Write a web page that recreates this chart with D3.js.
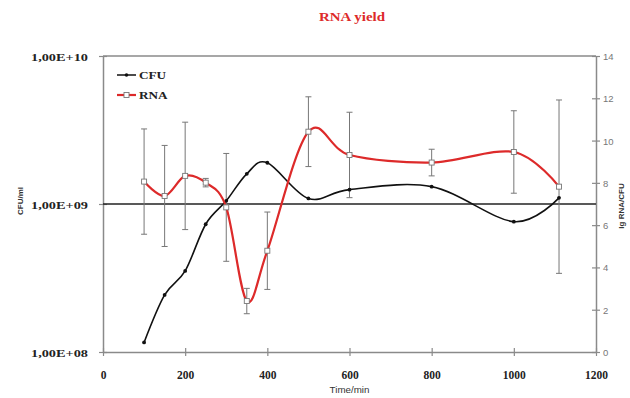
<!DOCTYPE html>
<html>
<head>
<meta charset="utf-8">
<script src="https://cdn.jsdelivr.net/npm/d3@7"></script>
<style>
  html, body { margin: 0; padding: 0; background: #fff; }
  svg { display: block; }
</style>
</head>
<body>
<svg id="chart" width="630" height="398"></svg>
<script>
// ---- data ----
const timeMin = [100, 150, 200, 250, 300, 350, 400, 500, 600, 800, 1000, 1110];
const cfuPerMl = [1.16e8, 2.43e8, 3.53e8, 7.3e8, 1.05e9, 1.6e9, 1.9e9, 1.09e9, 1.25e9, 1.31e9, 7.6e8, 1.1e9];
const lgRnaPerCfu = [8.06, 7.38, 8.33, 8.01, 6.84, 2.41, 4.79, 10.42, 9.32, 8.96, 9.46, 7.82];
const rnaError = [2.49, 2.39, 2.54, 0.2, 2.55, 0.6, 1.83, 1.65, 2.02, 0.63, 1.95, 4.1];
const xTicks = [0, 200, 400, 600, 800, 1000, 1200];
const leftTicks = [1e8, 1e9, 1e10];
const leftTickLabels = ["1,00E+08", "1,00E+09", "1,00E+10"];
const rightTicks = [0, 2, 4, 6, 8, 10, 12, 14];
const seriesNames = ["CFU", "RNA"];

// ---- layout ----
const svg = d3.select("#chart");
const L = 103, R = 596, T = 56, B = 352;
const red = "#dd2a2a";
const axisGrey = "#8a8a8a";

const x = d3.scaleLinear().domain([0, 1200]).range([L, R]);
const yL = d3.scaleLog().domain([1e8, 1e10]).range([B, T]);
const yR = d3.scaleLinear().domain([0, 14]).range([B, T]);

// title
svg.append("text")
  .attr("transform", `translate(352,21) scale(1.15,1)`)
  .attr("text-anchor", "middle")
  .attr("font-family", "Liberation Serif")
  .attr("font-weight", "bold")
  .attr("font-size", 13)
  .attr("fill", red)
  .text("RNA yield");

// frame top line
svg.append("line").attr("x1", L).attr("x2", R).attr("y1", T).attr("y2", T)
  .attr("stroke", axisGrey).attr("stroke-width", 1.5);

// axes
const crossTicks = (g) => {
  g.select(".domain").attr("stroke", axisGrey).attr("stroke-width", 1.5);
  g.selectAll(".tick line").attr("stroke", axisGrey).attr("stroke-width", 1.2);
};

// bottom axis
const gx = svg.append("g").attr("transform", `translate(0,${B})`)
  .call(d3.axisBottom(x).tickValues(xTicks).tickSize(4).tickSizeOuter(0).tickFormat(""));
crossTicks(gx);
gx.selectAll(".tick line").attr("y1", -4).attr("y2", 4);
gx.selectAll(".tick").append("text")
  .attr("y", 27).attr("x", 0)
  .attr("text-anchor", "middle")
  .attr("font-family", "Liberation Serif").attr("font-weight", "bold")
  .attr("font-size", 11.5).attr("fill", "#222")
  .text(d => d3.format("d")(d));

// left axis
const gl = svg.append("g").attr("transform", `translate(${L},0)`)
  .call(d3.axisLeft(yL).tickValues(leftTicks).tickSize(4).tickSizeOuter(0).tickFormat(""));
crossTicks(gl);
gl.selectAll(".tick line").attr("x1", -4).attr("x2", 4);
gl.selectAll(".tick").append("text")
  .attr("transform", "translate(-15,4) scale(1.3,1)")
  .attr("text-anchor", "end")
  .attr("font-family", "Liberation Serif").attr("font-weight", "bold")
  .attr("font-size", 11).attr("fill", "#222")
  .text((d, i) => leftTickLabels[leftTicks.indexOf(d)]);

// right axis
const gr = svg.append("g").attr("transform", `translate(${R},0)`)
  .call(d3.axisRight(yR).tickValues(rightTicks).tickSize(4).tickSizeOuter(0).tickFormat(""));
crossTicks(gr);
gr.selectAll(".tick line").attr("x1", -4).attr("x2", 4);
gr.selectAll(".tick").append("text")
  .attr("x", 7).attr("y", 3.5)
  .attr("font-family", "Liberation Sans")
  .attr("font-size", 9.5).attr("fill", "#777")
  .text(d => d);

// axis titles
svg.append("text")
  .attr("transform", `translate(23,${(T + B) / 2 - 3}) rotate(-90)`)
  .attr("text-anchor", "middle")
  .attr("font-family", "Liberation Sans").attr("font-weight", "bold")
  .attr("font-size", 8).attr("fill", "#333")
  .text("CFU/ml");
svg.append("text")
  .attr("transform", `translate(624,${(T + B) / 2 + 2}) rotate(-90)`)
  .attr("text-anchor", "middle")
  .attr("font-family", "Liberation Sans").attr("font-weight", "bold")
  .attr("font-size", 8).attr("fill", "#333")
  .text("lg RNA/CFU");
svg.append("text")
  .attr("transform", `translate(${(L + R) / 2 - 0},393) scale(1.15,1)`)
  .attr("text-anchor", "middle")
  .attr("font-family", "Liberation Sans")
  .attr("font-size", 8.5).attr("fill", "#333")
  .text("Time/min");

// 1E+09 reference line
svg.append("line")
  .attr("x1", L).attr("x2", R)
  .attr("y1", yL(1e9)).attr("y2", yL(1e9))
  .attr("stroke", "#222").attr("stroke-width", 1.3);

// error bars for RNA
const eb = svg.append("g").attr("stroke", "#777").attr("stroke-width", 1);
timeMin.forEach((t, i) => {
  const cx = x(t);
  const y1 = yR(lgRnaPerCfu[i] + rnaError[i]);
  const y2 = yR(lgRnaPerCfu[i] - rnaError[i]);
  eb.append("line").attr("x1", cx).attr("x2", cx).attr("y1", y1).attr("y2", y2);
  eb.append("line").attr("x1", cx - 3).attr("x2", cx + 3).attr("y1", y1).attr("y2", y1);
  eb.append("line").attr("x1", cx - 3).attr("x2", cx + 3).attr("y1", y2).attr("y2", y2);
});

const curve = d3.curveCatmullRom.alpha(0);

// CFU line
const cfuLine = d3.line().x((d, i) => x(timeMin[i])).y(d => yL(d)).curve(curve);
svg.append("path").datum(cfuPerMl)
  .attr("d", cfuLine).attr("fill", "none")
  .attr("stroke", "#111").attr("stroke-width", 1.6);
svg.append("g").selectAll("circle").data(cfuPerMl).join("circle")
  .attr("cx", (d, i) => x(timeMin[i])).attr("cy", d => yL(d))
  .attr("r", 1.9).attr("fill", "#111");

// RNA line
const rnaLine = d3.line().x((d, i) => x(timeMin[i])).y(d => yR(d)).curve(curve);
svg.append("path").datum(lgRnaPerCfu)
  .attr("d", rnaLine).attr("fill", "none")
  .attr("stroke", red).attr("stroke-width", 2.2);
svg.append("g").selectAll("rect").data(lgRnaPerCfu).join("rect")
  .attr("x", (d, i) => x(timeMin[i]) - 2.5).attr("y", d => yR(d) - 2.5)
  .attr("width", 5).attr("height", 5)
  .attr("fill", "#fff").attr("stroke", "#777").attr("stroke-width", 0.9);

// legend
const lg = svg.append("g").attr("transform", "translate(117,75)");
lg.append("line").attr("x1", 0).attr("x2", 19).attr("y1", 0).attr("y2", 0)
  .attr("stroke", "#111").attr("stroke-width", 1.5);
lg.append("circle").attr("cx", 9.5).attr("cy", 0).attr("r", 1.8).attr("fill", "#111");
lg.append("line").attr("x1", 0).attr("x2", 19).attr("y1", 20).attr("y2", 20)
  .attr("stroke", red).attr("stroke-width", 2.2);
lg.append("rect").attr("x", 7).attr("y", 17.5).attr("width", 5).attr("height", 5)
  .attr("fill", "#fff").attr("stroke", "#777").attr("stroke-width", 0.9);
lg.selectAll("text.lbl").data(seriesNames).join("text")
  .attr("class", "lbl")
  .attr("transform", (d, i) => `translate(22,${i * 20 + 4}) scale(1.2,1)`)
  .attr("font-family", "Liberation Serif").attr("font-weight", "bold")
  .attr("font-size", 11).attr("fill", "#222")
  .text(d => d);
</script>
</body>
</html>
